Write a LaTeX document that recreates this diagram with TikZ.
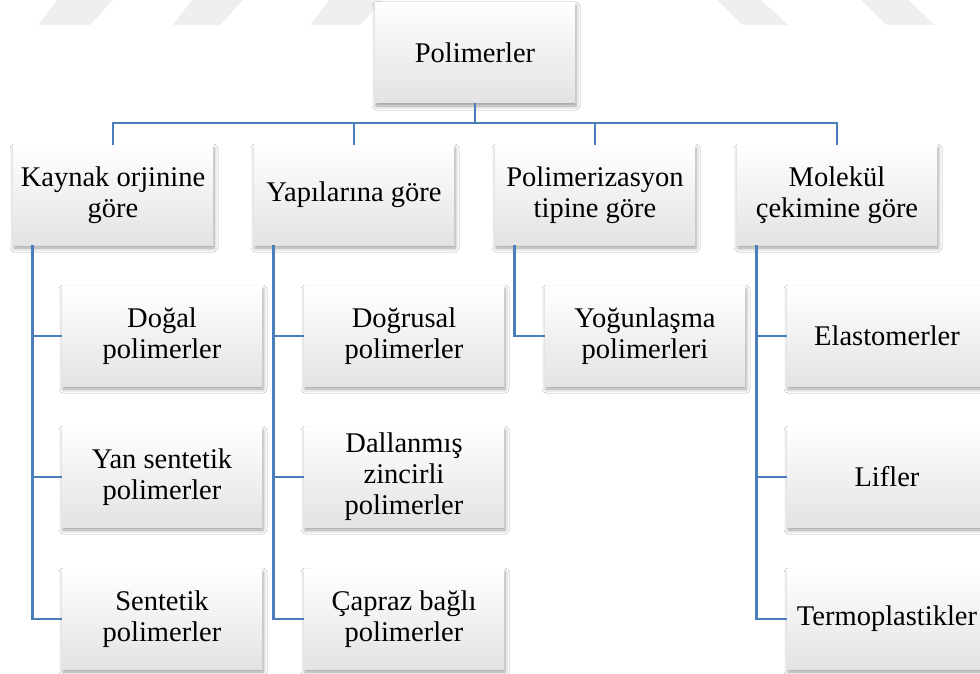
\documentclass[tikz,border=0pt]{standalone}
\usepackage{fontspec}
\setmainfont{Liberation Serif}
\usetikzlibrary{shadows.blur}
\definecolor{linkblue}{RGB}{74,126,187}
\definecolor{markgray}{RGB}{239,239,239}

\tikzset{
  smartbox/.style={minimum width=200pt, minimum height=100pt, inner sep=2pt,
    align=center, font=\fontsize{28.5}{31}\selectfont,
    top color=white, middle color=white!98!black, bottom color=black!11,
    blur shadow={shadow xshift=1pt, shadow yshift=-3pt, shadow blur radius=4pt, shadow opacity=40}},
  conn/.style={linkblue, line width=2.8pt}
}

\begin{document}
\begin{tikzpicture}[x=1pt, y=-1pt]
  \clip (0,0) rectangle (980,674);
  \fill[white] (0,0) rectangle (980,674);

  % Watermark stripes
  \foreach \a/\b in {38/90, 173/220, 310/360} {
    \fill[markgray] (\a,25) -- (\b,25) -- (\b+23,0) -- (\a+19,0) -- cycle;
  }
  \foreach \a/\b in {743/788, 887/935} {
    \fill[markgray] (\a,25) -- (\b,25) -- (\b-27,0) -- (\a-26,0) -- cycle;
  }

  % Root and main groups
  \node[smartbox] (root) at (475,53) {Polimerler};
  \node[smartbox] (kaynak) at (113,195) {Kaynak orjinine\\göre};
  \node[smartbox] (yapi) at (354,195) {Yapılarına göre};
  \node[smartbox] (tip) at (595,195) {Polimerizasyon\\tipine göre};
  \node[smartbox] (molekul) at (837,195) {Molekül\\çekimine göre};

  % Sub groups
  \node[smartbox] (kaynak1) at (162,336) {Doğal\\polimerler};
  \node[smartbox] (kaynak2) at (162,477) {Yan sentetik\\polimerler};
  \node[smartbox] (kaynak3) at (162,619) {Sentetik\\polimerler};
  \node[smartbox] (yapi1) at (404,336) {Doğrusal\\polimerler};
  \node[smartbox] (yapi2) at (404,477) {Dallanmış\\zincirli\\polimerler};
  \node[smartbox] (yapi3) at (404,619) {Çapraz bağlı\\polimerler};
  \node[smartbox] (tip1) at (645,336) {Yoğunlaşma\\polimerleri};
  \node[smartbox] (molekul1) at (887,336) {Elastomerler};
  \node[smartbox] (molekul2) at (887,477) {Lifler};
  \node[smartbox] (molekul3) at (887,619) {Termoplastikler};

  % Connectors
  \coordinate (bus) at (475,123);
  \draw[conn] (root.south) -- (bus);
  \foreach \n in {kaynak, yapi, tip, molekul} {
    \draw[conn] (bus) -| (\n.north);
  }
  \foreach \n/\c in {kaynak/kaynak1, kaynak/kaynak2, kaynak/kaynak3,
                     yapi/yapi1, yapi/yapi2, yapi/yapi3, tip/tip1,
                     molekul/molekul1, molekul/molekul2, molekul/molekul3} {
    \draw[conn] ([xshift=20pt]\n.south west) |- (\c.west);
  }
\end{tikzpicture}
\end{document}
